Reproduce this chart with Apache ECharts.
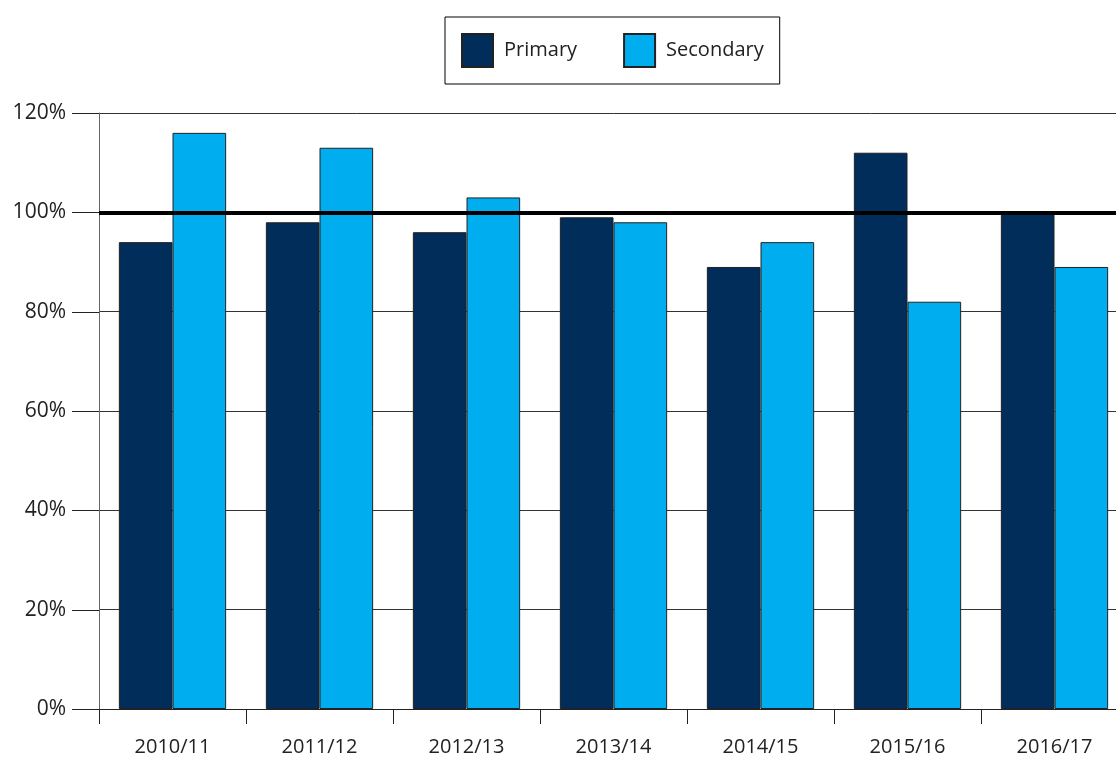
<!DOCTYPE html>
<html>
<head>
  <meta charset="utf-8"/>
  <title>Primary / Secondary</title>
  <style>
    html, body { margin: 0; padding: 0; background: #fff; overflow: hidden; }
    #main { width: 1128px; height: 758px; }
  </style>
</head>
<body>
<div id="main"></div>
<script src="https://cdn.jsdelivr.net/npm/echarts@6/dist/echarts.min.js"></script>
<script type="text/javascript">
// data (percent)
var years = ['2010/11', '2011/12', '2012/13', '2013/14', '2014/15', '2015/16', '2016/17'];
var primary = [94, 98, 96, 99, 89, 112, 100];
var secondary = [116, 113, 103, 98, 94, 82, 89];
var yTicks = [0, 20, 40, 60, 80, 100, 120];

var font = 'Open Sans';
var chart = echarts.init(document.getElementById('main'));

// outer tick marks on the left of the y axis (value axis ticks don't show up here)
function renderTick(params, api) {
  var cs = params.coordSys;
  var y = Math.round(api.coord([0, api.value(1)])[1]) + 0.5;
  return {
    type: 'line',
    shape: { x1: cs.x - 27, y1: y, x2: cs.x, y2: y },
    style: { stroke: '#222', lineWidth: 1 }
  };
}

chart.setOption({
  animation: false,
  textStyle: { fontFamily: font },
  legend: {
    top: 17,
    left: 445,
    padding: [16, 16, 16, 16],
    borderColor: '#000',
    borderWidth: 1,
    itemWidth: 31,
    itemHeight: 33,
    itemGap: 46,
    icon: 'rect',
    textStyle: { fontSize: 20, color: '#222', fontFamily: font, padding: [0, 0, 0, 6] },
    data: ['Primary', 'Secondary']
  },
  grid: { left: 99, right: 0, top: 113, bottom: 49 },
  xAxis: {
    type: 'category',
    data: years,
    axisLine: { lineStyle: { color: '#222', width: 1 } },
    axisTick: { show: true, length: 15, alignWithLabel: false, lineStyle: { color: '#222' } },
    axisLabel: { fontSize: 20, color: '#222', margin: 28 }
  },
  yAxis: {
    type: 'value',
    min: 0,
    max: 120,
    interval: 20,
    axisLine: { show: true, lineStyle: { color: '#666' } },
    axisTick: { show: false },
    axisLabel: {
      fontSize: 21, color: '#222', margin: 33,
      formatter: function (v) { return yTicks.indexOf(v) >= 0 ? v + '%' : ''; }
    },
    splitLine: { show: true, lineStyle: { color: '#333', width: 1 } }
  },
  series: [
    {
      name: 'Primary',
      type: 'bar',
      data: primary,
      barGap: '0%',
      barCategoryGap: '27%',
      itemStyle: { color: '#012d5b', borderColor: '#222', borderWidth: 1 },
      markLine: {
        silent: true,
        symbol: 'none',
        label: { show: false },
        lineStyle: { color: '#000', width: 4, type: 'solid' },
        data: [{ yAxis: 100 }]
      }
    },
    {
      name: 'Secondary',
      type: 'bar',
      data: secondary,
      itemStyle: { color: '#00adee', borderColor: '#222', borderWidth: 1 }
    },
    {
      name: 'ticks',
      type: 'custom',
      silent: true,
      clip: false,
      renderItem: renderTick,
      data: yTicks.map(function (v) { return [0, v]; })
    }
  ]
});
</script>
</body>
</html>
